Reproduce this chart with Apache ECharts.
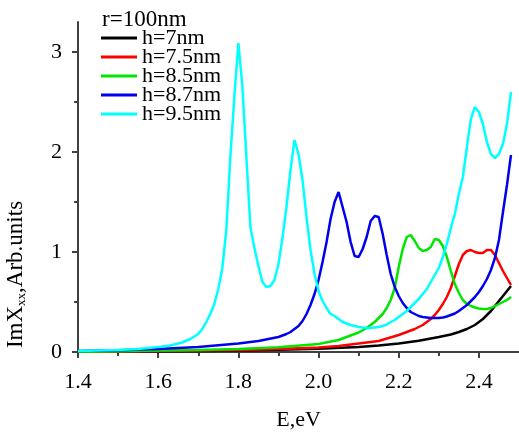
<!DOCTYPE html>
<html>
<head>
<meta charset="utf-8">
<script src="https://cdn.jsdelivr.net/npm/echarts@6/dist/echarts.min.js"></script>
<style>
html, body { margin: 0; padding: 0; background: #fff; }
#chart { width: 519px; height: 432px; }
</style>
</head>
<body>
<div id="chart"></div>
<script>
var seriesNames = ["h=7nm", "h=7.5nm", "h=8.5nm", "h=8.7nm", "h=9.5nm"];
var seriesColors = ["#000000", "#ff0000", "#00e600", "#0000ee", "#00ffff"];

// [E, ImXxx] pairs
var h70 = [[1.40,0.002],[1.50,0.004],[1.60,0.007],[1.70,0.010],[1.80,0.015],[1.90,0.022],[2.00,0.032],[2.10,0.050],[2.15,0.065],[2.20,0.085],[2.25,0.112],[2.30,0.150],[2.33,0.175],[2.35,0.20],[2.37,0.23],[2.39,0.27],[2.40,0.30],[2.41,0.33],[2.42,0.37],[2.43,0.41],[2.44,0.46],[2.45,0.51],[2.46,0.56],[2.47,0.61],[2.48,0.66]];

var h75 = [[1.40,0.003],[1.50,0.006],[1.60,0.010],[1.70,0.015],[1.80,0.021],[1.90,0.030],[2.00,0.045],[2.05,0.060],[2.10,0.085],[2.15,0.11],[2.20,0.17],[2.22,0.20],[2.24,0.23],[2.26,0.27],[2.28,0.33],[2.29,0.37],[2.30,0.42],[2.31,0.48],[2.32,0.55],[2.33,0.64],[2.34,0.76],[2.35,0.88],[2.36,0.97],[2.37,1.01],[2.38,1.02],[2.39,1.00],[2.40,0.99],[2.41,0.99],[2.42,1.02],[2.43,1.02],[2.44,0.97],[2.45,0.89],[2.46,0.81],[2.47,0.74],[2.48,0.67]];

var h85 = [[1.40,0.003],[1.50,0.008],[1.60,0.014],[1.70,0.021],[1.80,0.031],[1.90,0.047],[2.00,0.081],[2.05,0.12],[2.10,0.195],[2.12,0.24],[2.14,0.30],[2.16,0.38],[2.17,0.44],[2.18,0.52],[2.19,0.64],[2.20,0.85],[2.21,1.03],[2.22,1.15],[2.23,1.17],[2.24,1.11],[2.25,1.04],[2.26,1.01],[2.27,1.02],[2.28,1.05],[2.29,1.13],[2.30,1.12],[2.31,1.06],[2.32,0.95],[2.33,0.81],[2.34,0.68],[2.35,0.59],[2.36,0.52],[2.37,0.48],[2.38,0.46],[2.39,0.445],[2.40,0.435],[2.41,0.43],[2.42,0.43],[2.43,0.44],[2.44,0.46],[2.45,0.48],[2.46,0.50],[2.47,0.52],[2.48,0.55]];

var h87 = [[1.40,0.01],[1.50,0.018],[1.60,0.03],[1.70,0.05],[1.80,0.085],[1.85,0.11],[1.90,0.15],[1.92,0.18],[1.93,0.20],[1.94,0.23],[1.95,0.26],[1.96,0.31],[1.97,0.38],[1.98,0.47],[1.99,0.58],[2.00,0.72],[2.01,0.90],[2.02,1.10],[2.03,1.33],[2.04,1.50],[2.05,1.60],[2.06,1.45],[2.07,1.30],[2.08,1.10],[2.09,0.96],[2.10,0.95],[2.11,1.03],[2.12,1.15],[2.13,1.31],[2.14,1.36],[2.15,1.35],[2.16,1.18],[2.17,0.97],[2.18,0.78],[2.19,0.65],[2.20,0.56],[2.21,0.49],[2.22,0.44],[2.23,0.40],[2.24,0.38],[2.25,0.36],[2.26,0.35],[2.27,0.345],[2.28,0.34],[2.29,0.34],[2.30,0.34],[2.31,0.345],[2.32,0.355],[2.33,0.37],[2.34,0.385],[2.35,0.41],[2.36,0.44],[2.37,0.47],[2.38,0.51],[2.39,0.55],[2.40,0.60],[2.41,0.66],[2.42,0.73],[2.43,0.82],[2.44,0.94],[2.45,1.12],[2.46,1.40],[2.47,1.67],[2.48,1.97]];

var h95 = [[1.40,0.01],[1.45,0.015],[1.50,0.02],[1.55,0.03],[1.60,0.05],[1.63,0.065],[1.66,0.095],[1.68,0.13],[1.70,0.18],[1.71,0.23],[1.72,0.30],[1.73,0.38],[1.74,0.48],[1.75,0.63],[1.76,0.84],[1.77,1.22],[1.78,1.95],[1.79,2.55],[1.80,3.09],[1.81,2.66],[1.82,1.95],[1.83,1.25],[1.84,1.04],[1.85,0.86],[1.86,0.70],[1.87,0.65],[1.88,0.66],[1.89,0.72],[1.90,0.88],[1.91,1.14],[1.92,1.45],[1.93,1.82],[1.94,2.12],[1.95,1.98],[1.96,1.72],[1.97,1.35],[1.98,1.02],[1.99,0.78],[2.00,0.61],[2.01,0.51],[2.02,0.44],[2.03,0.38],[2.04,0.36],[2.05,0.33],[2.06,0.30],[2.07,0.285],[2.08,0.27],[2.09,0.26],[2.10,0.25],[2.11,0.245],[2.12,0.24],[2.13,0.24],[2.14,0.245],[2.15,0.25],[2.16,0.26],[2.17,0.275],[2.18,0.30],[2.19,0.32],[2.20,0.35],[2.21,0.38],[2.22,0.41],[2.23,0.45],[2.24,0.49],[2.25,0.53],[2.26,0.58],[2.27,0.63],[2.28,0.70],[2.29,0.77],[2.30,0.84],[2.31,0.95],[2.32,1.08],[2.33,1.24],[2.34,1.38],[2.35,1.58],[2.36,1.75],[2.37,2.05],[2.38,2.33],[2.39,2.45],[2.40,2.40],[2.41,2.28],[2.42,2.10],[2.43,1.98],[2.44,1.94],[2.45,1.98],[2.46,2.08],[2.47,2.28],[2.48,2.60]];

var xMajor = [1.4, 1.6, 1.8, 2.0, 2.2, 2.4];
var xMinor = [1.5, 1.7, 1.9, 2.1, 2.3];
var yMajor = [0, 1, 2, 3];
var yMinor = [0.5, 1.5, 2.5];

var allData = [h70, h75, h85, h87, h95];
var font = "Liberation Serif";

var chart = echarts.init(document.getElementById("chart"));

var series = allData.map(function (d, i) {
    return {
        name: seriesNames[i],
        type: "line",
        data: d,
        symbol: "none",
        smooth: false,
        xAxisIndex: 0,
        yAxisIndex: 0,
        color: seriesColors[i],
        lineStyle: { width: 2.5, color: seriesColors[i] },
        z: 2 + i
    };
});

var axisCol = "#404040";

var option = {
    animation: false,
    backgroundColor: "#fff",
    title: {
        text: "r=100nm",
        left: 97,
        top: 3,
        textStyle: { fontFamily: font, fontSize: 23, fontWeight: "normal", color: "#000" }
    },
    legend: {
        orient: "vertical",
        left: 101,
        top: 27,
        icon: "rect",
        itemWidth: 36,
        itemHeight: 3,
        itemGap: -3,
        padding: 0,
        data: seriesNames,
        textStyle: { fontFamily: font, fontSize: 22, color: "#000" }
    },
    grid: { left: 78, right: 0, top: 22, bottom: 80, outerBoundsMode: "none", containLabel: false },
    xAxis: [
        {
            type: "value",
            min: 1.4,
            max: 2.5,
            position: "bottom",
            name: "E,eV",
            nameLocation: "middle",
            nameGap: 57,
            nameTextStyle: { fontFamily: font, fontSize: 22, color: "#000" },
            splitLine: { show: false },
            axisLine: { show: true, lineStyle: { color: axisCol, width: 2 } },
            axisTick: { show: true, customValues: xMajor, length: 6, lineStyle: { color: axisCol, width: 2 } },
            axisLabel: {
                customValues: xMajor,
                margin: 19,
                fontFamily: font,
                fontSize: 22,
                color: "#000",
                formatter: function (v) { return v.toFixed(1); }
            }
        },
        {
            type: "value",
            min: 1.4,
            max: 2.5,
            position: "bottom",
            splitLine: { show: false },
            axisLine: { show: false },
            axisTick: { show: true, customValues: xMinor, length: 4, lineStyle: { color: axisCol, width: 2 } },
            axisLabel: { show: false }
        }
    ],
    yAxis: [
        {
            type: "value",
            min: 0,
            max: 3.3,
            position: "left",
            name: "{a|ImX}{s|xx}{a|,Arb.units}",
            nameLocation: "middle",
            nameGap: 50,
            nameTextStyle: {
                fontFamily: font,
                color: "#000",
                padding: [0, 175, 0, 0],
                rich: {
                    a: { fontFamily: font, fontSize: 23, color: "#000" },
                    s: { fontFamily: font, fontSize: 13, color: "#000", verticalAlign: "bottom", padding: [12, 0, 0, 0] }
                }
            },
            splitLine: { show: false },
            axisLine: { show: true, lineStyle: { color: axisCol, width: 2 } },
            axisTick: { show: true, customValues: yMajor, length: 6, lineStyle: { color: axisCol, width: 2 } },
            axisLabel: {
                customValues: yMajor,
                margin: 16,
                fontFamily: font,
                fontSize: 22,
                color: "#000"
            }
        },
        {
            type: "value",
            min: 0,
            max: 3.3,
            position: "left",
            splitLine: { show: false },
            axisLine: { show: false },
            axisTick: { show: true, customValues: yMinor, length: 4, lineStyle: { color: axisCol, width: 2 } },
            axisLabel: { show: false }
        }
    ],
    series: series
};

chart.setOption(option);
window.addEventListener("resize", function () { chart.resize(); });
</script>
</body>
</html>
